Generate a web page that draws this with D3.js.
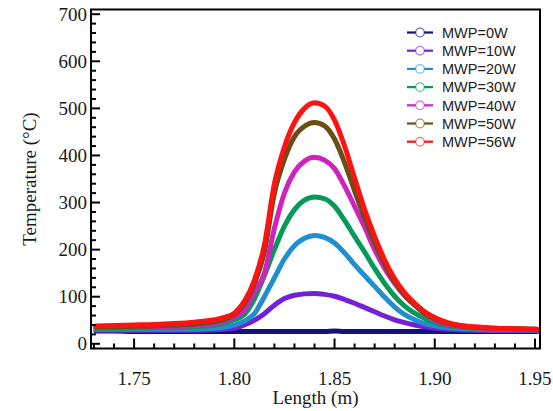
<!DOCTYPE html>
<html>
<head>
<meta charset="utf-8">
<script src="https://d3js.org/d3.v7.min.js"></script>
<style>
  body { margin: 0; background: #fff; }
  .tick-label { font-family: 'Liberation Serif', 'Times New Roman', serif; font-size: 19px; fill: #1a1a1a; }
  .axis-title { font-family: 'Liberation Serif', 'Times New Roman', serif; font-size: 19px; fill: #1a1a1a; }
  .legend text { font-family: 'Liberation Sans', Arial, sans-serif; font-size: 14.5px; fill: #222; }
</style>
</head>
<body>
<svg id="vis" width="553" height="411"></svg>
<script>
// length positions (m)
var lengths = [1.731, 1.74, 1.75, 1.76, 1.77, 1.78, 1.79, 1.795, 1.80, 1.805, 1.81, 1.815, 1.82, 1.825,
  1.83, 1.835, 1.84, 1.845, 1.85, 1.855, 1.86, 1.865, 1.87, 1.875, 1.88, 1.885, 1.89, 1.895, 1.90,
  1.905, 1.91, 1.92, 1.93, 1.94, 1.951];

// temperature readings (°C) per microwave power
var t0W  = [27, 27, 26, 26, 26, 26, 26, 26, 26, 26, 26, 26, 26, 26, 26, 26, 26, 26, 27, 26, 26, 26, 26, 26, 26,
  26, 26, 26, 26, 26, 26, 26, 26, 26, 26];
var t10W = [29, 29, 29, 29, 29, 29, 30, 31, 33, 40, 50, 64, 82, 96, 103, 106, 107, 105, 101, 94, 86, 77, 68,
  59, 51, 45, 40, 36, 33, 31, 30, 29, 28, 28, 28];
var t20W = [31, 31, 31, 31, 31, 31, 33, 35, 40, 48, 64, 100, 140, 180, 208, 224, 230, 226, 214, 193, 168, 145,
  122, 99, 78, 62, 51, 43, 38, 35, 33, 31, 30, 30, 29];
var t30W = [33, 33, 33, 34, 34, 36, 40, 44, 51, 62, 95, 145, 200, 250, 285, 305, 312, 308, 292, 262, 228, 195,
  160, 128, 101, 80, 65, 54, 45, 39, 36, 33, 31, 31, 30];
var t40W = [35, 35, 35, 36, 37, 39, 43, 48, 57, 72, 110, 150, 245, 320, 365, 388, 396, 390, 372, 335, 292, 248,
  200, 160, 128, 102, 82, 64, 50, 42, 38, 34, 32, 31, 30];
var t50W = [36, 36, 37, 38, 40, 42, 47, 52, 62, 85, 128, 195, 320, 392, 440, 462, 470, 463, 435, 385, 325, 268,
  215, 170, 132, 103, 82, 65, 53, 45, 40, 35, 33, 32, 31];
var t56W = [38, 39, 40, 41, 43, 46, 51, 56, 65, 90, 135, 210, 340, 418, 470, 500, 512, 505, 475, 420, 352, 285,
  228, 178, 138, 108, 86, 68, 56, 47, 41, 36, 33, 32, 31];

var seriesNames = ['MWP=0W', 'MWP=10W', 'MWP=20W', 'MWP=30W', 'MWP=40W', 'MWP=50W', 'MWP=56W'];
var seriesValues = [t0W, t10W, t20W, t30W, t40W, t50W, t56W];
var seriesColors = ['#12127a', '#7420d4', '#1f8fd0', '#06995a', '#cf22bf', '#6b4d16', '#ff1212'];

var xMajor = [1.75, 1.80, 1.85, 1.90, 1.95];
var yMajor = [0, 100, 200, 300, 400, 500, 600, 700];

var pLeft = 91, pRight = 540, pTop = 9.5, pBottom = 348.5;

var svg = d3.select('#vis');

var x = d3.scaleLinear().domain([1.7285, 1.9525]).range([pLeft, pRight]);
var y = d3.scaleLinear().domain([-10, 710]).range([pBottom, pTop]);

// curves
var line = d3.line()
  .x(function(d) { return x(d[0]); })
  .y(function(d) { return y(d[1]); })
  .curve(d3.curveMonotoneX);

seriesValues.forEach(function(vals, i) {
  var pts = lengths.map(function(l, j) { return [l, vals[j]]; });
  svg.append('path')
    .attr('d', line(pts))
    .style('fill', 'none')
    .style('stroke', seriesColors[i])
    .style('stroke-width', 5)
    .style('stroke-linejoin', 'round')
    .style('stroke-linecap', 'round');
});

// ticks, pointing inwards
var xMinor = d3.range(173, 196).map(function(v) { return v / 100; });
xMinor.forEach(function(v) {
  var major = xMajor.some(function(m) { return Math.abs(m - v) < 1e-9; });
  svg.append('line')
    .attr('x1', x(v)).attr('x2', x(v))
    .attr('y1', pBottom).attr('y2', pBottom - (major ? 10 : 5))
    .style('stroke', '#000').style('stroke-width', 2);
});
xMajor.forEach(function(v) {
  svg.append('text').attr('class', 'tick-label')
    .attr('x', x(v)).attr('y', 385)
    .attr('text-anchor', 'middle')
    .text(v.toFixed(2));
});

var yMinor = d3.range(0, 701, 20);
yMinor.forEach(function(v) {
  var major = v % 100 === 0;
  svg.append('line')
    .attr('x1', pLeft).attr('x2', pLeft + (major ? 9 : 5))
    .attr('y1', y(v)).attr('y2', y(v))
    .style('stroke', '#000').style('stroke-width', 2);
});
yMajor.forEach(function(v) {
  svg.append('text').attr('class', 'tick-label')
    .attr('x', pLeft - 4).attr('y', y(v))
    .attr('dy', '0.35em')
    .attr('text-anchor', 'end')
    .text(v);
});

// frame
svg.append('rect')
  .attr('x', pLeft).attr('y', pTop)
  .attr('width', pRight - pLeft).attr('height', pBottom - pTop)
  .style('fill', 'none').style('stroke', '#000').style('stroke-width', 2);

// axis titles
svg.append('text').attr('class', 'axis-title')
  .attr('x', (pLeft + pRight) / 2).attr('y', 404)
  .attr('text-anchor', 'middle')
  .text('Length (m)');

svg.append('text').attr('class', 'axis-title')
  .attr('transform', 'translate(36,' + ((pTop + pBottom) / 2) + ') rotate(-90)')
  .attr('text-anchor', 'middle')
  .text('Temperature (°C)');

// legend
var lg = svg.append('g').attr('class', 'legend');
seriesNames.forEach(function(n, i) {
  var ly = 32.5 + i * 18.2;
  lg.append('line')
    .attr('x1', 407).attr('x2', 433)
    .attr('y1', ly).attr('y2', ly)
    .style('stroke', seriesColors[i]).style('stroke-width', 2.2);
  lg.append('circle')
    .attr('cx', 420).attr('cy', ly).attr('r', 4.3)
    .style('fill', '#fff')
    .style('stroke', seriesColors[i]).style('stroke-opacity', 0.6).style('stroke-width', 1.3);
  lg.append('text')
    .attr('x', 442).attr('y', ly).attr('dy', '0.36em')
    .text(n);
});
</script>
</body>
</html>
